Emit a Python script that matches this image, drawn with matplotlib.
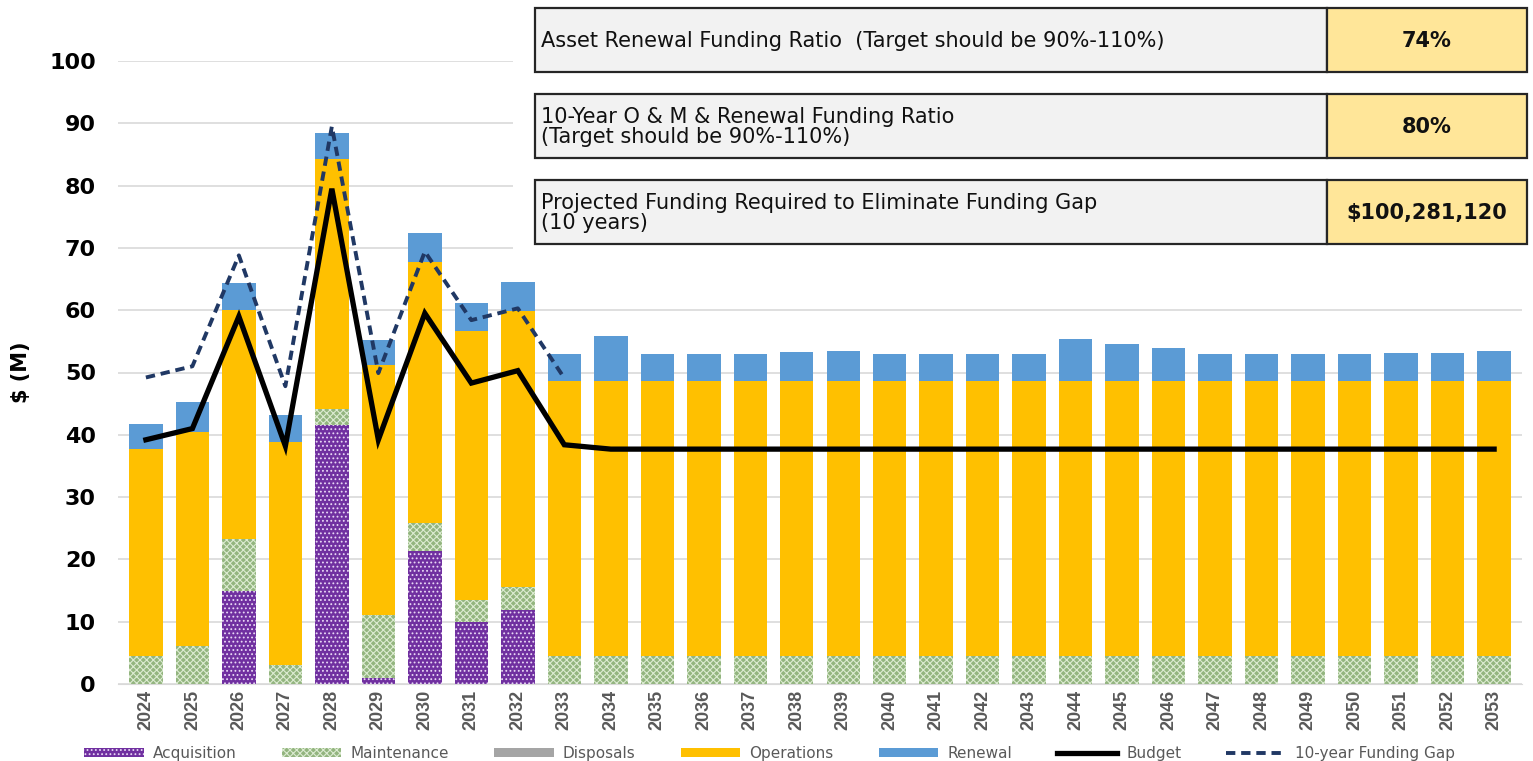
import matplotlib.pyplot as plt
import matplotlib.patches as patches
import numpy as np

plt.rcParams['font.family'] = ['Liberation Sans', 'DejaVu Sans']
plt.rcParams['hatch.linewidth'] = 0.8

years = list(range(2024, 2054))

# $M per category (stacked)
acquisition = [0, 0, 15.0, 0, 41.5, 1.0, 21.4, 10.0, 11.9] + [0] * 21
maintenance = [4.5, 6.1, 8.2, 3.0, 2.7, 10.0, 4.4, 3.5, 3.6] + [4.5] * 21
disposals = [0] * 30
operations = [33.2, 34.4, 36.8, 35.9, 40.0, 40.2, 42.0, 43.2, 44.3] + [44.2] * 21
renewal = [4.1, 4.7, 4.4, 4.3, 4.3, 4.0, 4.6, 4.5, 4.7, 4.2,
           7.2, 4.2, 4.2, 4.2, 4.6, 4.8, 4.2, 4.2, 4.2, 4.2,
           6.6, 5.9, 5.3, 4.2, 4.2, 4.2, 4.2, 4.4, 4.4, 4.7]
budget = [39.2, 41.0, 59.0, 38.2, 79.5, 39.2, 59.5, 48.3, 50.3, 38.4] + [37.7] * 20
funding_gap = [49.2, 51.0, 68.8, 47.8, 89.5, 49.9, 69.4, 58.4, 60.3, 49.1]

table_labels = ['Asset Renewal Funding Ratio  (Target should be 90%-110%)',
                '10-Year O & M & Renewal Funding Ratio\n(Target should be 90%-110%)',
                'Projected Funding Required to Eliminate Funding Gap\n(10 years)']
table_values = ['74%', '80%', '$100,281,120']

W, H = 1533, 761
fig = plt.figure(figsize=(W / 100, H / 100), dpi=100)
ax = fig.add_axes([118 / W, 1 - 684 / H, (1522 - 118) / W, (684 - 61) / H])

x = np.arange(len(years))
bw = 0.72
bottom = np.zeros(len(years))
series = [
    ('Acquisition', acquisition, dict(facecolor='#7030a0', edgecolor='#e8d8f5', hatch='....')),
    ('Maintenance', maintenance, dict(facecolor='#93b57f', edgecolor='#dcebd2', hatch='xxxxx')),
    ('Disposals', disposals, dict(facecolor='#a5a5a5', edgecolor='#a5a5a5')),
    ('Operations', operations, dict(facecolor='#ffc000', edgecolor='#ffc000')),
    ('Renewal', renewal, dict(facecolor='#5b9bd5', edgecolor='#5b9bd5')),
]
for name, vals, style in series:
    vals = np.array(vals, dtype=float)
    ax.bar(x, vals, bw, bottom=bottom, label=name, linewidth=0, zorder=2, **style)
    bottom += vals

ax.plot(x, budget, color='black', lw=3.8, label='Budget', zorder=4, solid_joinstyle='miter')
ax.plot(x[:len(funding_gap)], funding_gap, color='#203864', lw=2.8,
        dashes=(2.4, 1.5), label='10-year Funding Gap', zorder=3)

ax.set_xlim(-0.6, len(years) - 0.4)
ax.set_ylim(0, 100)
ax.set_yticks(range(0, 101, 10))
ax.set_xticks(x)
ax.set_xticklabels(years, rotation=90, fontsize=13, fontweight='bold', color='#595959')
ax.tick_params(axis='y', labelsize=16, length=0, pad=16)
for t in ax.get_yticklabels():
    t.set_fontweight('bold')
    t.set_family('DejaVu Sans')
ax.tick_params(axis='x', length=0, pad=4)
ax.grid(axis='y', color='#d9d9d9', lw=1.2, zorder=0)
for s in ['top', 'right', 'left']:
    ax.spines[s].set_visible(False)
ax.spines['bottom'].set_color('#d9d9d9')
ax.set_ylabel('$ (M)', fontsize=15, fontweight='bold', family='DejaVu Sans')
ax.yaxis.set_label_coords(-0.062, 0.5)

handles, labels = ax.get_legend_handles_labels()
order = [2, 3, 4, 5, 6, 0, 1]
fig.legend([handles[i] for i in order], [labels[i] for i in order],
           loc='lower center', bbox_to_anchor=(0.502, -0.018), ncol=7, frameon=False,
           handlelength=3.9, handleheight=0.45, columnspacing=2.95,
           handletextpad=0.6, labelcolor='#595959', prop={'family': 'DejaVu Sans', 'size': 11})

# info table at top right
tax = fig.add_axes([513 / W, 1 - 252 / H, (W - 513) / W, 252 / H], zorder=5)
tax.set_xlim(513, W)
tax.set_ylim(252, 0)
tax.set_axis_off()
tax.add_patch(patches.Rectangle((513, 0), W - 513, 252, facecolor='white', edgecolor='none'))
tops = [8, 94, 180]
for top, lab, val in zip(tops, table_labels, table_values):
    tax.add_patch(patches.Rectangle((535, top), 1327 - 535, 64, facecolor='#f2f2f2',
                                    edgecolor='#262626', lw=1.6))
    tax.add_patch(patches.Rectangle((1327, top), 1527 - 1327, 64, facecolor='#ffe699',
                                    edgecolor='#262626', lw=1.6))
    tax.text(541, top + 33, lab, ha='left', va='center', fontsize=15, color='#111111',
             family='DejaVu Sans', linespacing=0.95)
    tax.text(1427, top + 33, val, ha='center', va='center', fontsize=15, fontweight='bold',
             color='#111111', family='DejaVu Sans')

fig.savefig('out.png', dpi=100)
